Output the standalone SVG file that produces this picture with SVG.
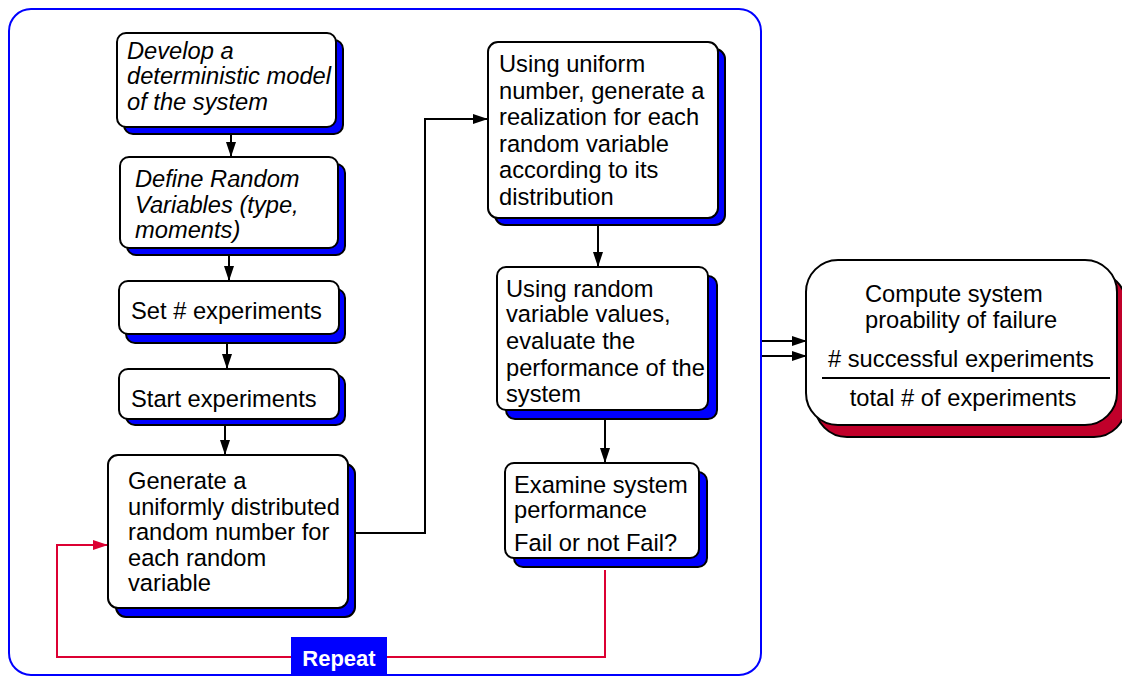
<svg xmlns="http://www.w3.org/2000/svg" width="1122" height="676" viewBox="0 0 1122 676">
<style>
.box{fill:#fff;stroke:#000;stroke-width:2}
.sh{fill:#0000ff;stroke:#000;stroke-width:2}
.shr{fill:#c0002a;stroke:#000;stroke-width:2}
.t{font-family:"Liberation Sans",Arial,sans-serif;font-size:23.7px;fill:#000}
.it{font-style:italic}
.ln{fill:none;stroke:#000;stroke-width:2}
.rd{fill:none;stroke:#dc0032;stroke-width:2}
</style>
<defs>
<marker id="ah" markerWidth="16" markerHeight="12" refX="15" refY="6" orient="auto" markerUnits="userSpaceOnUse">
<path d="M0,1 L15,6 L0,11 Z" fill="#000"/>
</marker>
<marker id="ahr" markerWidth="16" markerHeight="12" refX="15" refY="6" orient="auto" markerUnits="userSpaceOnUse">
<path d="M0,1 L15,6 L0,11 Z" fill="#dc0032"/>
</marker>
</defs>
<rect width="1122" height="676" fill="#fff"/>
<rect id="frame" x="9" y="9" width="752" height="666" rx="22" fill="none" stroke="#0000ff" stroke-width="2"/>

<g id="connectors">
<line class="ln" x1="231" y1="128" x2="231" y2="157" marker-end="url(#ah)"/>
<line class="ln" x1="229" y1="256" x2="229" y2="281" marker-end="url(#ah)"/>
<line class="ln" x1="227" y1="343" x2="227" y2="369" marker-end="url(#ah)"/>
<line class="ln" x1="225" y1="426" x2="225" y2="455" marker-end="url(#ah)"/>
<polyline class="ln" points="356,533 425,533 425,119 488,119" marker-end="url(#ah)"/>
<line class="ln" x1="598" y1="226" x2="598" y2="267" marker-end="url(#ah)"/>
<line class="ln" x1="605" y1="419" x2="605" y2="463" marker-end="url(#ah)"/>
<polyline class="rd" points="605,570 605,657 57,657 57,545 108,545" marker-end="url(#ahr)"/>
<line class="ln" x1="762" y1="341" x2="807" y2="341" marker-end="url(#ah)"/>
<line class="ln" x1="762" y1="356" x2="807" y2="356" marker-end="url(#ah)"/>
</g>

<g id="repeat">
<rect x="291" y="637" width="96" height="39" fill="#0000ff"/>
<text x="339" y="666" text-anchor="middle" font-family="Liberation Sans,Arial,sans-serif" font-size="22" font-weight="bold" fill="#fff">Repeat</text>
</g>

<g id="n1">
<rect class="sh" x="124" y="40" width="219" height="94" rx="9"/>
<rect class="box" x="117" y="33" width="219" height="94" rx="9"/>
<text class="t it" x="127" y="59">Develop a</text>
<text class="t it" x="127" y="84">deterministic model</text>
<text class="t it" x="127" y="110">of the system</text>
</g>

<g id="n2">
<rect class="sh" x="127" y="164" width="218" height="91" rx="9"/>
<rect class="box" x="120" y="157" width="218" height="91" rx="9"/>
<text class="t it" x="135" y="187">Define Random</text>
<text class="t it" x="135" y="213">Variables (type,</text>
<text class="t it" x="135" y="238">moments)</text>
</g>

<g id="n3">
<rect class="sh" x="126" y="289" width="219" height="54" rx="9"/>
<rect class="box" x="119" y="281" width="220" height="53" rx="9"/>
<text class="t" x="131" y="319">Set # experiments</text>
</g>

<g id="n4">
<rect class="sh" x="126" y="375" width="219" height="50" rx="9"/>
<rect class="box" x="119" y="369" width="220" height="50" rx="9"/>
<text class="t" x="131" y="407">Start experiments</text>
</g>

<g id="n5">
<rect class="sh" x="116" y="464" width="239" height="153" rx="10"/>
<rect class="box" x="108" y="455" width="240" height="153" rx="10"/>
<text class="t" x="128" y="489">Generate a</text>
<text class="t" x="128" y="515">uniformly distributed</text>
<text class="t" x="128" y="540">random number for</text>
<text class="t" x="128" y="566">each random</text>
<text class="t" x="128" y="591">variable</text>
</g>

<g id="n6">
<rect class="sh" x="495" y="49" width="230" height="176" rx="10"/>
<rect class="box" x="488" y="42" width="230" height="176" rx="10"/>
<text class="t" x="499" y="72">Using uniform</text>
<text class="t" x="499" y="98.5">number, generate a</text>
<text class="t" x="499" y="125">realization for each</text>
<text class="t" x="499" y="151.5">random variable</text>
<text class="t" x="499" y="178">according to its</text>
<text class="t" x="499" y="204.5">distribution</text>
</g>

<g id="n7">
<rect class="sh" x="506" y="276" width="211" height="143" rx="9"/>
<rect class="box" x="497" y="267" width="211" height="143" rx="9"/>
<text class="t" x="506" y="297">Using random</text>
<text class="t" x="506" y="322">variable values,</text>
<text class="t" x="506" y="349">evaluate the</text>
<text class="t" x="506" y="376">performance of the</text>
<text class="t" x="506" y="402">system</text>
</g>

<g id="n8">
<rect class="sh" x="514" y="472" width="193" height="95" rx="9"/>
<rect class="box" x="505" y="463" width="194" height="95" rx="9"/>
<text class="t" x="514" y="493">Examine system</text>
<text class="t" x="514" y="518">performance</text>
<text class="t" x="514" y="551">Fail or not Fail?</text>
</g>

<g id="n9">
<rect class="shr" x="815" y="272" width="311" height="165" rx="32"/>
<rect class="box" x="806" y="260" width="311" height="165" rx="32"/>
<text class="t" x="865" y="302">Compute system</text>
<text class="t" x="865" y="328">proability of failure</text>
<text class="t" x="961" y="367" text-anchor="middle"># successful experiments</text>
<line x1="822" y1="378" x2="1110" y2="378" stroke="#000" stroke-width="2"/>
<text class="t" x="963" y="406" text-anchor="middle">total # of experiments</text>
</g>
</svg>
